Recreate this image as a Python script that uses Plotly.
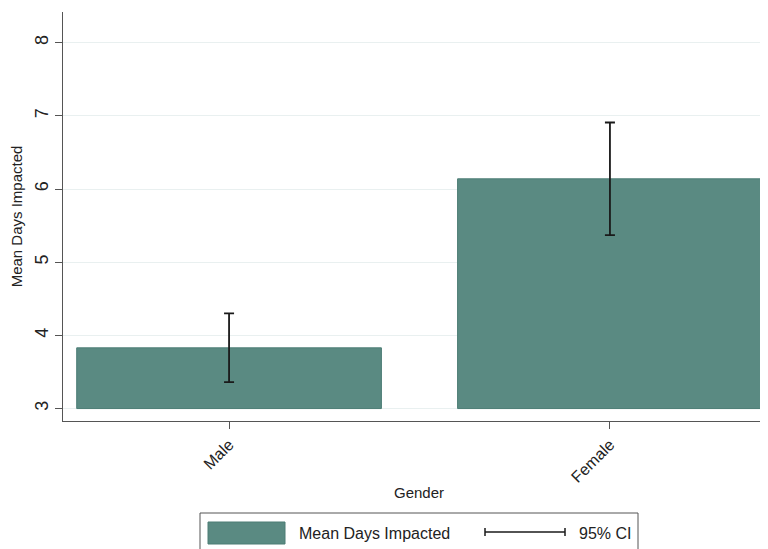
import plotly.graph_objects as go

categories = ["Male", "Female"]
means = [3.83, 6.14]
ci_upper = [4.30, 6.91]
ci_lower = [3.36, 5.37]
y_ticks = [3, 4, 5, 6, 7, 8]

# page has an 8px body margin; work in page pixels and shift
OFF = 8
W, H = 768 - OFF, 549 - OFF
L, T = 63 - OFF, 12 - OFF
R, B = 0, 549 - 421
pw, ph = W - L - R, H - T - B

def px(x):
    return (x - OFF - L) / pw

def py(y):
    return (H - B - (y - OFF)) / ph

FONT = "Arial, Liberation Sans, sans-serif"
TEAL = "#5a8a82"

fig = go.Figure()
fig.add_trace(go.Bar(
    x=categories, y=[m - 3 for m in means], base=3,
    marker=dict(color=TEAL, line=dict(color="#4c7d75", width=1)),
    error_y=dict(type="data", symmetric=False,
                 array=[u - m for u, m in zip(ci_upper, means)],
                 arrayminus=[m - l for m, l in zip(means, ci_lower)],
                 color="#1a1a1a", thickness=1.8, width=5),
    showlegend=False,
))

fig.update_layout(
    width=W, height=H,
    margin=dict(l=L, r=R, t=T, b=B),
    paper_bgcolor="white", plot_bgcolor="white",
    font=dict(family=FONT, color="#222"),
    bargap=0.2,
    xaxis=dict(range=[-0.436, 1.415], showline=True, linecolor="#555", linewidth=1.2,
               ticks="outside", ticklen=7, tickcolor="#555", tickangle=-45,
               tickfont=dict(size=16, family=FONT, color="#222"), showgrid=False,
               automargin=False),
    yaxis=dict(range=[2.83, 8.42], tickvals=y_ticks, showline=True, linecolor="#555",
               linewidth=1.2, ticks="outside", ticklen=7, tickcolor="#555",
               tickangle=-90, tickfont=dict(size=18, family=FONT, color="#222"),
               showgrid=True, gridcolor="#e9f0f0", gridwidth=1, zeroline=False,
               automargin=False,
               title=dict(text="Mean Days Impacted", font=dict(size=15, family=FONT, color="#222"),
                          standoff=8)),
)

# x axis title
fig.add_annotation(text="Gender", xref="paper", yref="paper", x=px(419), y=py(493),
                   showarrow=False, font=dict(size=15, family=FONT, color="#222"),
                   xanchor="center", yanchor="middle")

# custom legend
fig.add_shape(type="rect", xref="paper", yref="paper", x0=px(200), x1=px(638),
              y0=py(552), y1=py(513), line=dict(color="#555", width=1), fillcolor="white")
fig.add_shape(type="rect", xref="paper", yref="paper", x0=px(208), x1=px(285),
              y0=py(544), y1=py(522), line=dict(color="#4c7d75", width=1), fillcolor=TEAL)
fig.add_annotation(text="Mean Days Impacted", xref="paper", yref="paper", x=px(297), y=py(533),
                   showarrow=False, xanchor="left", yanchor="middle",
                   font=dict(size=16, family=FONT, color="#222"))
fig.add_shape(type="line", xref="paper", yref="paper", x0=px(485), x1=px(565),
              y0=py(532), y1=py(532), line=dict(color="#1a1a1a", width=1.5))
for xe in (485, 565):
    fig.add_shape(type="line", xref="paper", yref="paper", x0=px(xe), x1=px(xe),
                  y0=py(528), y1=py(536), line=dict(color="#1a1a1a", width=1.5))
fig.add_annotation(text="95% CI", xref="paper", yref="paper", x=px(577), y=py(533),
                   showarrow=False, xanchor="left", yanchor="middle",
                   font=dict(size=16, family=FONT, color="#222"))

fig.write_html("out.html")
